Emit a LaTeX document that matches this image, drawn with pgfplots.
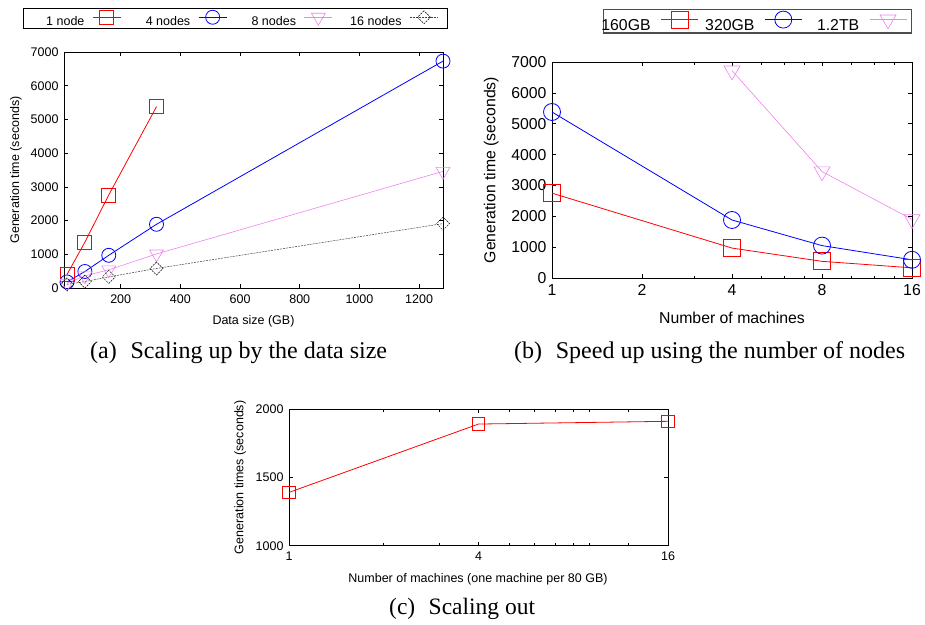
\documentclass[border=0pt]{standalone}
\usepackage{fontspec}
\setmainfont{Liberation Serif}
\setsansfont{Liberation Sans}
\usepackage{pgfplots}
\pgfplotsset{compat=1.18}

\definecolor{gpviolet}{RGB}{238,130,238}

\pgfplotsset{
  gp/.style={scale only axis, clip=false,
    axis line style={black, line width=0.9pt},
    tick style={black, line width=0.6pt},
    major tick length=4pt, minor tick length=2.5pt,
    tick align=inside,
    /pgf/number format/assume math mode=true,
    /pgf/number format/1000 sep={},
    legend plot pos=right,
    every axis plot/.append style={line width=0.8pt, mark options={solid}},
  },
}

\begin{document}
\begin{tikzpicture}
\useasboundingbox (0,0) rectangle (925pt,-624pt);

% (a) scaling up by data size
\begin{axis}[gp, at={(64pt,-288pt)}, anchor=south west,
  width=379pt, height=236pt,
  xmin=10, xmax=1280, ymin=0, ymax=7000,
  xtick={200,400,...,1200}, ytick={0,1000,...,7000},
  font=\fontsize{12.5}{14}\sffamily,
  xticklabel style={yshift=-3pt}, yticklabel style={xshift=-2pt},
  xlabel={Data size (GB)}, ylabel={Generation time (seconds)},
  xlabel style={at={(axis description cs:0.5,-0.14)}, anchor=center},
  ylabel style={at={(axis description cs:-0.127,0.5)}, anchor=center},
  legend columns=4,
  legend style={at={(axis description cs:-0.108,1.185)}, anchor=north west,
    draw=black, line width=0.8pt, inner xsep=9pt, inner ysep=1.5pt,
    /tikz/column sep=0pt, nodes={inner sep=0pt}},
  legend image code/.code={\draw[mark repeat=2, mark phase=2] plot coordinates {(0pt,4.5pt) (14pt,4.5pt) (28pt,4.5pt)};},
]
\addplot[draw=red, mark=square, mark size=7pt] coordinates {(20,400) (80,1360) (160,2760) (320,5380)};
\addlegendentry{\makebox[60pt][r]{1 node\hspace{8pt}}}
\addplot[draw=blue, mark=o, mark size=7pt] coordinates {(20,180) (80,490) (160,970) (320,1890) (1280,6730)};
\addlegendentry{\makebox[77pt][r]{4 nodes\hspace{8pt}}}
\addplot[draw=gpviolet, line width=0.6pt, mark=triangle, mark size=8pt, mark options={rotate=180}] coordinates {(20,140) (80,360) (160,540) (320,1010) (1280,3460)};
\addlegendentry{\makebox[77pt][r]{8 nodes\hspace{8pt}}}
\addplot[draw=black!75, line width=0.5pt, dash pattern=on 2pt off 1pt, mark=square, mark size=4.6pt, mark options={rotate=45, draw=black}] coordinates {(20,110) (80,190) (160,330) (320,580) (1280,1910)};
\addlegendentry{\makebox[77pt][r]{16 nodes\hspace{8pt}}}
\end{axis}

% (b) speed up by number of nodes
\begin{axis}[gp, at={(552pt,-278pt)}, anchor=south west,
  width=360pt, height=216pt,
  xmode=log, log basis x=2, xmin=1, xmax=16, ymin=0, ymax=7000,
  xtick={1,2,4,8,16}, xticklabels={1,2,4,8,16},
  extra x ticks={3,5,6,7,10,12,14}, extra x tick labels={},
  extra x tick style={major tick length=2.5pt},
  ytick={0,1000,...,7000},
  font=\fontsize{15.8}{18}\sffamily,
  xticklabel style={yshift=-3pt}, yticklabel style={xshift=-2pt},
  xlabel={Number of machines}, ylabel={Generation time (seconds)},
  xlabel style={at={(axis description cs:0.5,-0.185)}, anchor=center},
  ylabel style={at={(axis description cs:-0.169,0.5)}, anchor=center},
  legend columns=3,
  legend style={at={(axis description cs:0.1417,1.2454)}, anchor=north west,
    draw=black!70, line width=1.2pt, inner xsep=4.5pt, inner ysep=1.5pt,
    /tikz/column sep=0pt, nodes={inner sep=0pt}},
  legend image code/.code={\draw[mark repeat=2, mark phase=2] plot coordinates {(0pt,5.7pt) (18.5pt,5.7pt) (37pt,5.7pt)};},
]
\addplot[draw=red, mark=square, mark size=8.5pt] coordinates {(1,2750) (4,970) (8,540) (16,330)};
\addlegendentry{\makebox[52.5pt][r]{160GB\hspace{10pt}}}
\addplot[draw=blue, mark=o, mark size=8.5pt] coordinates {(1,5380) (4,1880) (8,1050) (16,590)};
\addlegendentry{\makebox[66pt][r]{320GB\hspace{10pt}}}
\addplot[draw=gpviolet, line width=0.6pt, mark=triangle, mark size=9.2pt, mark options={rotate=180}] coordinates {(4,6720) (8,3450) (16,1900)};
\addlegendentry{\makebox[67pt][r]{1.2TB\hspace{10pt}}}
\end{axis}

% (c) scaling out
\begin{axis}[gp, at={(289pt,-545.7pt)}, anchor=south west,
  width=379pt, height=136.7pt,
  xmode=log, log basis x=2, xmin=1, xmax=16, ymin=1000, ymax=2000,
  xtick={1,4,16}, xticklabels={1,4,16},
  extra x ticks={2,3,5,6,7,8,9,12}, extra x tick labels={},
  extra x tick style={major tick length=2.5pt},
  ytick={1000,1500,2000},
  font=\fontsize{12.5}{14}\sffamily,
  xticklabel style={yshift=-3pt}, yticklabel style={xshift=-2pt},
  xlabel={Number of machines (one machine per 80 GB)}, ylabel={Generation times (seconds)},
  xlabel style={at={(axis description cs:0.4987,-0.244)}, anchor=center},
  ylabel style={at={(axis description cs:-0.129,0.5)}, anchor=center},
]
\addplot[draw=red, mark=square, mark size=6.3pt] coordinates {(1,1390) (4,1890) (16,1910)};
\end{axis}

% sub-captions
\node[anchor=base west, inner sep=0pt, font=\fontsize{24}{28}\selectfont] at (90pt,-358pt) {(a)\hspace{0.57em}Scaling up by the data size};
\node[anchor=base west, inner sep=0pt, font=\fontsize{24}{28}\selectfont] at (514pt,-358pt) {(b)\hspace{0.57em}Speed up using the number of nodes};
\node[anchor=base west, inner sep=0pt, font=\fontsize{23.5}{28}\selectfont] at (389pt,-614pt) {(c)\hspace{0.57em}Scaling out};
\end{tikzpicture}
\end{document}
